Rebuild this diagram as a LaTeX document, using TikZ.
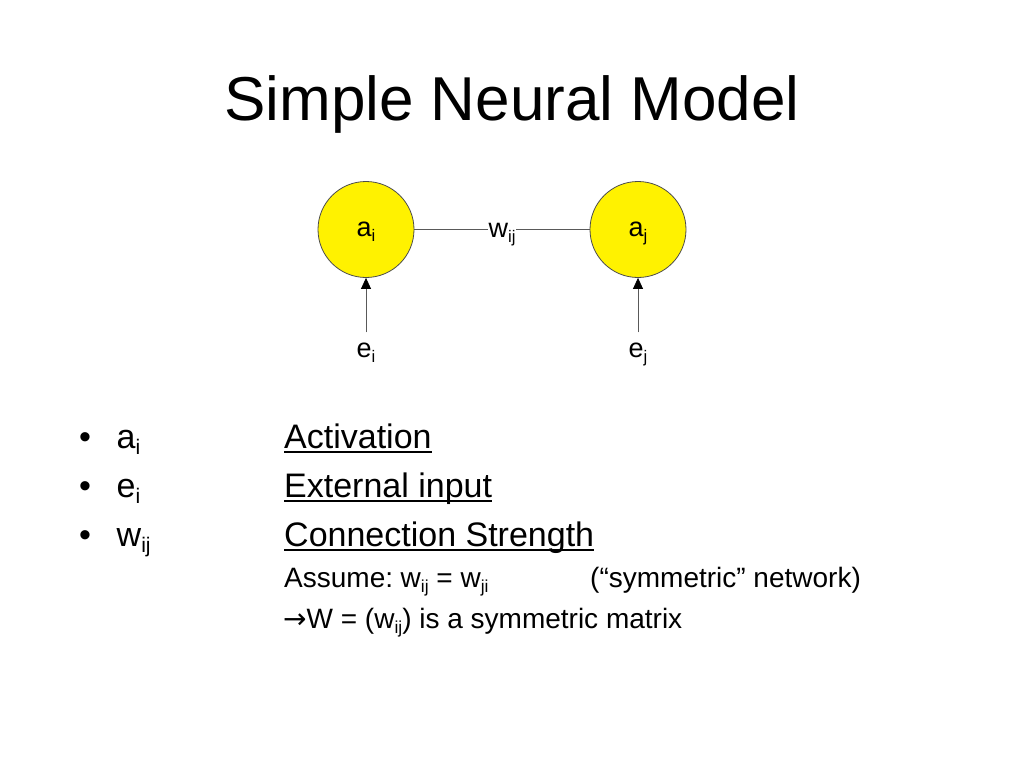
\documentclass[tikz,border=0pt]{standalone}
\usepackage{fontspec}
\setmainfont{Liberation Sans}
\newfontfamily\arrowfont{DejaVu Sans}
\usetikzlibrary{arrows.meta}
\newcommand\sbs[1]{\raisebox{-0.2em}{\scalebox{0.62}{#1}}}
\newcommand\ulx[1]{\begingroup\setbox0\hbox{#1}\rlap{\rule[-0.15em]{\wd0}{0.065em}}\box0\endgroup}
\tikzset{
  titletext/.style={anchor=base, inner sep=0pt, font=\fontsize{62}{70}\selectfont},
  itemtext/.style={anchor=base west, inner sep=0pt, font=\fontsize{34}{40}\selectfont},
  subtext/.style={anchor=base west, inner sep=0pt, font=\fontsize{28}{32}\selectfont},
  neuron/.style={circle, draw=black!70, line width=0.8pt, fill=yellow, minimum size=96pt, inner sep=0pt,
    font=\fontsize{27}{30}\selectfont, text height=13pt, text depth=0pt},
  lab/.style={inner sep=2pt, font=\fontsize{27}{30}\selectfont},
  link/.style={draw=black!65, line width=0.8pt},
  arr/.style={link, -{Triangle[length=11pt,width=10pt,fill=black,color=black]}}
}
\begin{document}
\begin{tikzpicture}[x=1pt,y=-1pt]
\fill[white] (0,0) rectangle (1024,768);
\useasboundingbox (0,0) rectangle (1024,768);
% title
\node[titletext] (title) at (512,120) {Simple Neural Model};
% diagram
\node[neuron] (ai) at (366,229.5) {a\sbs{i}};
\node[neuron] (aj) at (638,229.5) {a\sbs{j}};
\draw[link] (ai) -- (aj) node[midway, anchor=base, yshift=-8pt, fill=white, lab, inner sep=1pt] (wij) {w\sbs{ij}};
\node[lab, anchor=base] (ei) at (366,357) {e\sbs{i}};
\node[lab, anchor=base] (ej) at (638,357) {e\sbs{j}};
\draw[arr] ([yshift=8pt]ei.north) -- (ai.south);
\draw[arr] ([yshift=8pt]ej.north) -- (aj.south);
% bullets
\node[itemtext] (b1) at (79,448) {•};
\node[itemtext] (b2) at (79,497) {•};
\node[itemtext] (b3) at (79,546) {•};
\node[itemtext] (k1) at (116.5,448) {a\sbs{i}};
\node[itemtext] (k2) at (116.5,497) {e\sbs{i}};
\node[itemtext] (k3) at (116.5,546) {w\sbs{ij}};
\node[itemtext] (d1) at (284,448) {\ulx{Activation}};
\node[itemtext] (d2) at (284,497) {\ulx{External input}};
\node[itemtext] (d3) at (284,546) {\ulx{Connection Strength}};
\node[subtext] (s1) at (284,587) {Assume:\hspace{-0.1em} w\sbs{ij} = w\sbs{ji}};
\node[subtext] (s2) at (590,587) {(“symmetric” network)};
\node[subtext] (s3) at (283,628) {{\arrowfont →}W = (w\sbs{ij}) is a symmetric matrix};
\end{tikzpicture}
\end{document}
